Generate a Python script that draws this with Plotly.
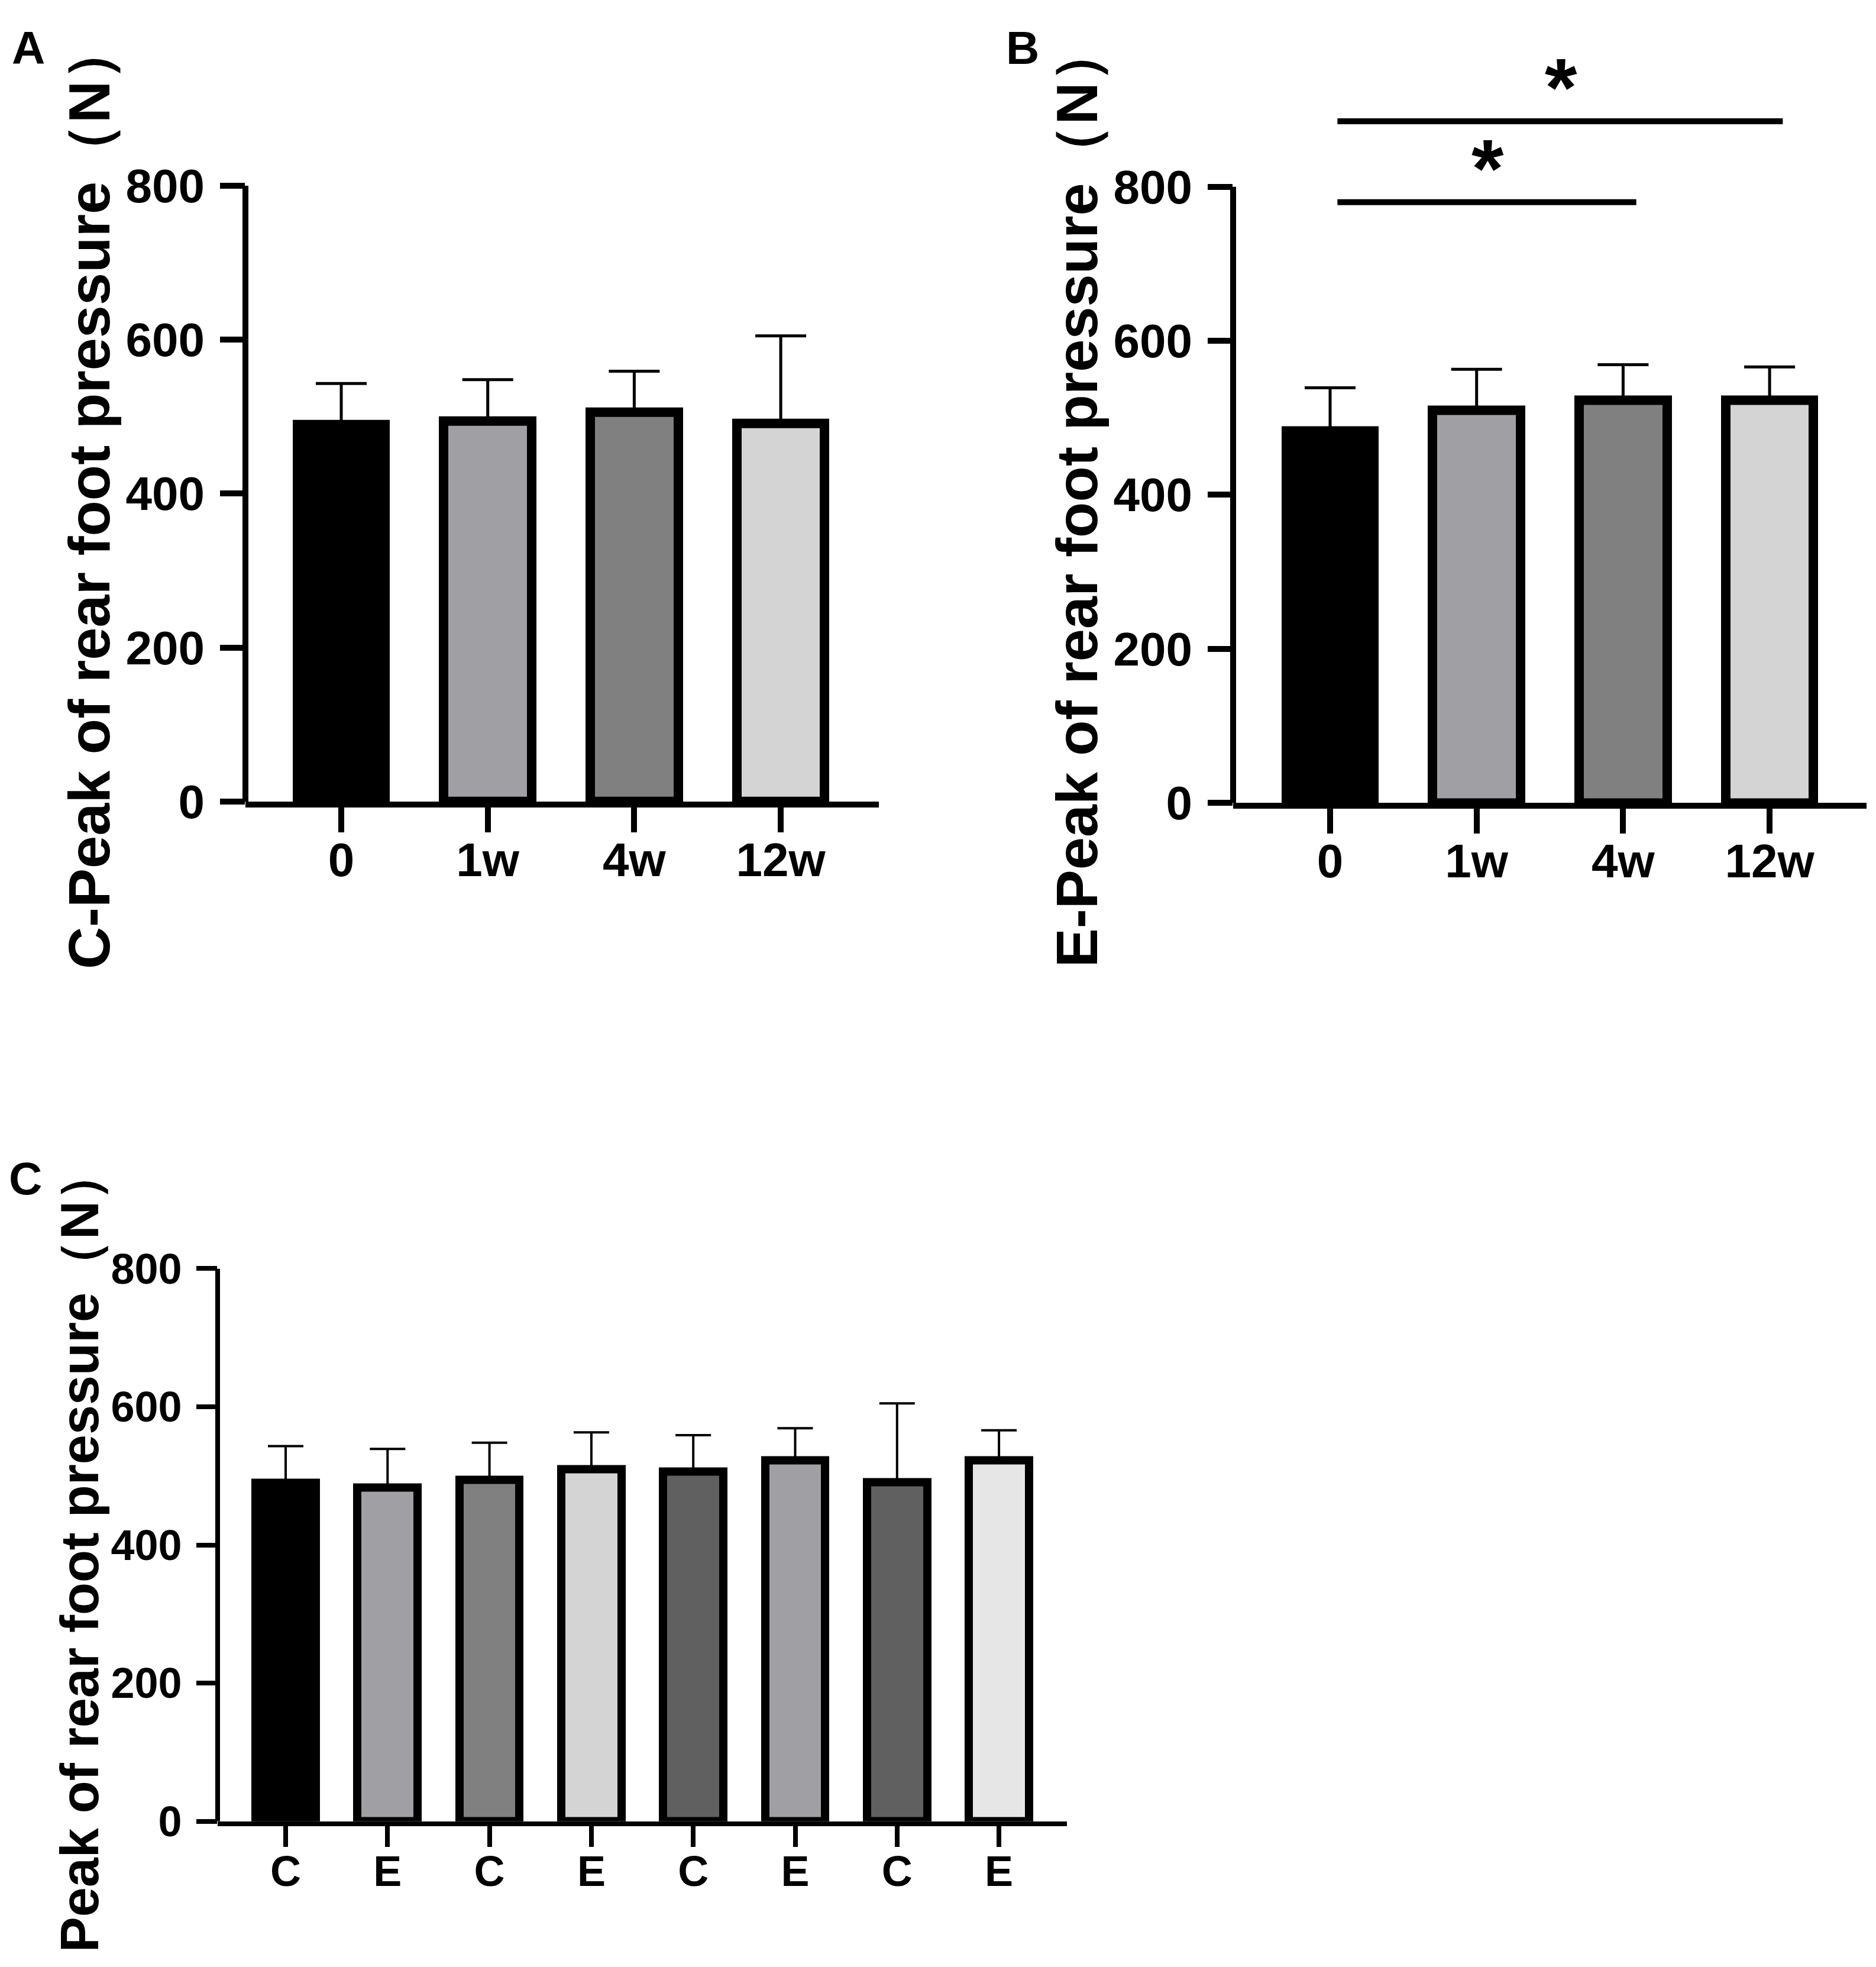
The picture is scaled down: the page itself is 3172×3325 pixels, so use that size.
import plotly.graph_objects as go

W, H = 3172, 3325

weeks = ['0', '1w', '4w', '12w']
c_mean = [490, 494, 506, 491]
c_sd = [53, 54, 53, 114]
e_mean = [483, 510, 523, 523]
e_sd = [56, 53, 46, 43]

week_colors = ['#000000', '#a0a0a4', '#808080', '#d4d4d4']

combo_labels = ['C', 'E', 'C', 'E', 'C', 'E', 'C', 'E']
combo_colors = ['#000000', '#a0a0a4', '#808080', '#d4d4d4',
                '#606060', '#a0a0a4', '#606060', '#e6e6e6']

# panel B brackets: (from bar, to bar, height)
sig_pairs = [(0, 2, 780), (0, 3, 885)]
sig_text = ['*', '*']

# panel C interleaves control / experimental
combo_mean = [v for pair in zip(c_mean, e_mean) for v in pair]
combo_sd = [v for pair in zip(c_sd, e_sd) for v in pair]

BOLD = dict(family='Liberation Sans, Arial, sans-serif', color='black', weight='bold')


def px_x(p):
    return p / W


def px_y(p):
    return 1 - p / H


fig = go.Figure()


def add_panel(n, labels, means, sds, colors, left, right, c0, step, bottom, scale, ytop,
              barw, lw, axw, cap, errw, tlen, tfont, xstand, ystand):
    xs = list(range(len(labels)))
    xa = 'x' if n == 1 else 'x%d' % n
    ya = 'y' if n == 1 else 'y%d' % n
    fig.add_trace(go.Bar(
        x=xs, y=means, width=barw, xaxis=xa, yaxis=ya,
        marker=dict(color=colors, line=dict(color='black', width=lw)),
        error_y=dict(type='data', symmetric=False, array=sds, arrayminus=[0] * len(sds),
                     color='black', thickness=errw, width=cap),
        hoverinfo='skip'))
    top = bottom - ytop * scale
    key = '' if n == 1 else str(n)
    fig.update_layout(**{
        'xaxis' + key: dict(domain=[px_x(left), px_x(right)],
                            range=[(left - c0) / step, (right - c0) / step],
                            anchor=ya, tickvals=xs, ticktext=labels,
                            showline=True, linewidth=axw, linecolor='black',
                            ticks='outside', ticklen=tlen, tickwidth=axw, tickcolor='black',
                            tickfont=tfont, ticklabelstandoff=xstand,
                            showgrid=False, zeroline=False),
        'yaxis' + key: dict(domain=[px_y(bottom), px_y(top)], range=[0, ytop],
                            anchor=xa, tickvals=[0, 200, 400, 600, 800],
                            showline=False, ticks='outside', ticklen=tlen, tickwidth=axw,
                            tickcolor='black', tickfont=tfont, ticklabelstandoff=ystand,
                            showgrid=False, zeroline=False),
    })
    # y axis line stops at 800 even where the range goes higher
    fig.add_shape(type='line', xref=xa + ' domain', yref=ya, x0=0, x1=0, y0=0, y1=800,
                  line=dict(color='black', width=axw))
    return xa, ya


add_panel(1, weeks, c_mean, c_sd, week_colors, 407, 1478, 569, 247.7, 1339, 1.3375, 800,
          0.60, 16, 10, 43, 5, 42, dict(BOLD, size=80), -22, 10)
xb, yb = add_panel(2, weeks, e_mean, e_sd, week_colors, 2077, 3148, 2241, 247.7, 1341, 1.3375,
                   960, 0.60, 16, 10, 43, 5, 42, dict(BOLD, size=80), -22, 10)
add_panel(3, combo_labels, combo_mean, combo_sd, combo_colors, 360, 1796, 475, 172.3, 3110,
          1.2, 800, 0.59, 14, 8, 30, 4, 35, dict(BOLD, size=72), -20, 10)

for (a, b, h), s in zip(sig_pairs, sig_text):
    fig.add_shape(type='line', xref=xb, yref=yb, x0=a + 0.05, x1=b + 0.09, y0=h, y1=h,
                  line=dict(color='black', width=10))
    fig.add_annotation(xref=xb, yref=yb, x=(a + b + 0.15) / 2, y=h + 44, text=s,
                       showarrow=False, font=dict(BOLD, size=140),
                       xanchor='center', yanchor='middle')

titles = [('C-Peak of rear foot pressure（N）', 142, 808, 99),
          ('E-Peak of rear foot pressure（N）', 1812, 808, 99),
          ('Peak of rear foot pressure（N）', 127, 2639, 90)]
for txt, x, y, size in titles:
    fig.add_annotation(xref='paper', yref='paper', x=px_x(x), y=px_y(y), text=txt,
                       textangle=-90, showarrow=False, font=dict(BOLD, size=size),
                       xanchor='center', yanchor='middle')

for letter, x, y in [('A', 40, 30), ('B', 1721, 30), ('C', 35, 1993)]:
    fig.add_annotation(xref='paper', yref='paper', x=px_x(x), y=px_y(y), text=letter,
                       showarrow=False, font=dict(BOLD, size=78),
                       xanchor='center', yanchor='middle')

fig.update_layout(width=W, height=H, margin=dict(l=0, r=0, t=0, b=0),
                  paper_bgcolor='white', plot_bgcolor='white', showlegend=False,
                  bargap=0)

fig.write_html("out.html")
